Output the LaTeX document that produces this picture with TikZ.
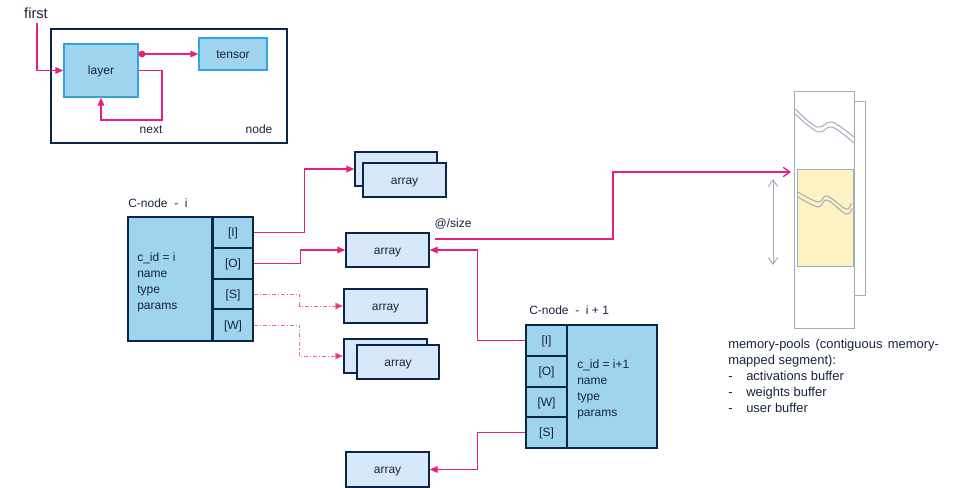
\documentclass[tikz,border=0pt]{standalone}
\usepackage{fontspec}
\setmainfont{Liberation Sans}
\usetikzlibrary{arrows.meta,fit}
\definecolor{pk}{RGB}{232,30,130}
\definecolor{pkl}{RGB}{238,100,165}
\definecolor{nv}{RGB}{12,38,75}
\definecolor{lb}{RGB}{158,212,238}
\definecolor{ab}{RGB}{214,232,250}
\definecolor{bb}{RGB}{50,165,225}
\definecolor{gr}{RGB}{160,172,190}
\definecolor{yl}{RGB}{255,242,194}
\definecolor{tx}{RGB}{25,35,60}
\begin{document}
\begin{tikzpicture}[x=0.75pt,y=-0.75pt,
  font=\fontsize{9}{12}\selectfont, text=tx,
  cellbox/.style={draw=nv, fill=lb, line width=1pt, inner sep=0pt},
  arrbox/.style={draw=nv, fill=ab, line width=1pt, inner sep=0pt},
  topbox/.style={draw=bb, fill=lb, line width=1pt, inner sep=0pt},
  lnk/.style={draw=pk, line width=1pt, -{Triangle[length=6pt,width=5pt]}},
  dlnk/.style={draw=pkl, line width=0.75pt, dash pattern=on 3pt off 1.5pt on 0.8pt off 1.5pt,
     -{Triangle[length=6pt,width=5pt,fill=pk]}},
  grl/.style={draw=gr, line width=0.75pt},
  lbl/.style={inner sep=0pt},
  mid/.style={label={[inner sep=0pt, text=tx, text height=1.2ex, text depth=0pt]center:#1}}]
\useasboundingbox (0,0) rectangle (962,488);

% ---------- top: node / layer / tensor ----------
\node[draw=nv, line width=1pt, inner sep=0pt, fit={(51,29) (287,143)}] (nodebox) {};
\node[topbox, fit={(64,44) (138,97)}, mid=layer] (layer) {};
\node[topbox, fit={(199,38) (267,70)}, mid=tensor] (tensor) {};
\node[lbl, anchor=base, font=\fontsize{11}{13}\selectfont] (first) at (36,19) {first};
\node[lbl] (next) at (151,130) {next};
\node[lbl] (nodelbl) at (259,129) {node};

\draw[lnk] (first.south) ++(1,4) |- (layer.west);
\draw[lnk, {Circle[length=5pt]}-{Triangle[length=6pt,width=5pt]}] (layer.east |- tensor.west) -- (tensor.west);
\draw[lnk] (layer.east) -- (162,70.5) -- (162,120) -| (layer.south);

% ---------- C-node i ----------
\node[lbl, anchor=base west] (cilbl) at (128,208) {C-node\ \ -\ \ i};
\node[cellbox, fit={(128,217) (212,341)}] (ci) {};
\node[lbl, anchor=north west, align=left] (citxt) at (137,253) {c\_id = i\\name\\type\\params};
\node[cellbox, fit={(213,217) (253,248)}, mid={[I]}] (ciI) {};
\node[cellbox, fit={(213,248) (253,279)}, mid={[O]}] (ciO) {};
\node[cellbox, fit={(213,279) (253,309)}, mid={[S]}] (ciS) {};
\node[cellbox, fit={(213,309) (253,341)}, mid={[W]}] (ciW) {};

% ---------- arrays ----------
\node[arrbox, fit={(355,152) (437,186)}] (a1b) {};
\node[arrbox, fit={(363,163) (446,197)}, mid=array] (a1) {};
\node[arrbox, fit={(346,233) (429,267)}, mid=array] (a2) {};
\node[arrbox, fit={(344,289) (427,323)}, mid=array] (a3) {};
\node[arrbox, fit={(344,339) (427,373)}] (a4b) {};
\node[arrbox, fit={(357,345) (439,379)}, mid=array] (a4) {};
\node[arrbox, fit={(346,452) (429,487)}, mid=array] (a5) {};

\draw[lnk] (ciI.east) -- ++(51,0) |- (a1b.west);
\draw[lnk] (ciO.east) -- ++(47,0) |- (a2.west);
\draw[dlnk] (ciS.east) -- ++(46,0) |- (a3.west);
\draw[dlnk] (ciW.east) -- ++(46,0) |- (a4b.west);

% ---------- C-node i+1 ----------
\node[lbl, anchor=base west] (cjlbl) at (529,314) {C-node\ \ -\ \ i + 1};
\node[cellbox, fit={(567,325) (657,448)}] (cj) {};
\node[lbl, anchor=north west, align=left] (cjtxt) at (577,360) {c\_id = i+1\\name\\type\\params};
\node[cellbox, fit={(526,325) (567,356)}, mid={[I]}] (cjI) {};
\node[cellbox, fit={(526,356) (567,387)}, mid={[O]}] (cjO) {};
\node[cellbox, fit={(526,387) (567,417)}, mid={[W]}] (cjW) {};
\node[cellbox, fit={(526,417) (567,448)}, mid={[S]}] (cjS) {};

\draw[lnk] (cjI.west) -- ++(-48,0) |- (a2.east);
\draw[lnk] (cjS.west) -- ++(-48,0) |- (a5.east);

% ---------- memory pool ----------
\node[grl, fill=white, inner sep=0pt, fit={(854,102) (865,295)}] (memside) {};
\node[grl, fill=white, inner sep=0pt, fit={(794,92) (854,328)}] (mem) {};
\node[grl, fill=yl, inner sep=0pt, fit={(797,170) (853,266)}] (seg) {};
\draw[grl] plot[smooth, tension=0.6] coordinates {(795,109) (817,127) (832,122) (854,137)};
\draw[grl] plot[smooth, tension=0.6] coordinates {(795,114) (818,132) (832,127) (854,143)};
\draw[grl] plot[smooth, tension=0.6] coordinates {(798,192) (818,202) (827,196) (846,209) (851,203)};
\draw[grl] plot[smooth, tension=0.6] coordinates {(798,197) (818,207) (827,200) (846,214) (852,208)};
\coordinate (dimtop) at (773,179);
\coordinate (dimbot) at (773,265);
\draw[grl, {Straight Barb[length=5pt,width=7pt]}-{Straight Barb[length=5pt,width=7pt]}] (dimtop) -- (dimbot);

\node[lbl] (sizelbl) at (453,224) {@/size};
\coordinate (sizestart) at (435,239);
\coordinate (memptr) at (791,172);
\draw[draw=pk, line width=1pt, -{Straight Barb[length=5pt,width=7pt]}] (sizestart) -- (613,239) |- (memptr);

\node[lbl, anchor=north west, align=left, font=\fontsize{9.7}{12}\selectfont] (memtxt) at (728,339)
  {\makebox[158pt][s]{memory-pools (contiguous memory-}\\
   mapped segment):\\
   \makebox[13.5pt][l]{-}activations buffer\\
   \makebox[13.5pt][l]{-}weights buffer\\
   \makebox[13.5pt][l]{-}user buffer};
\end{tikzpicture}
\end{document}
